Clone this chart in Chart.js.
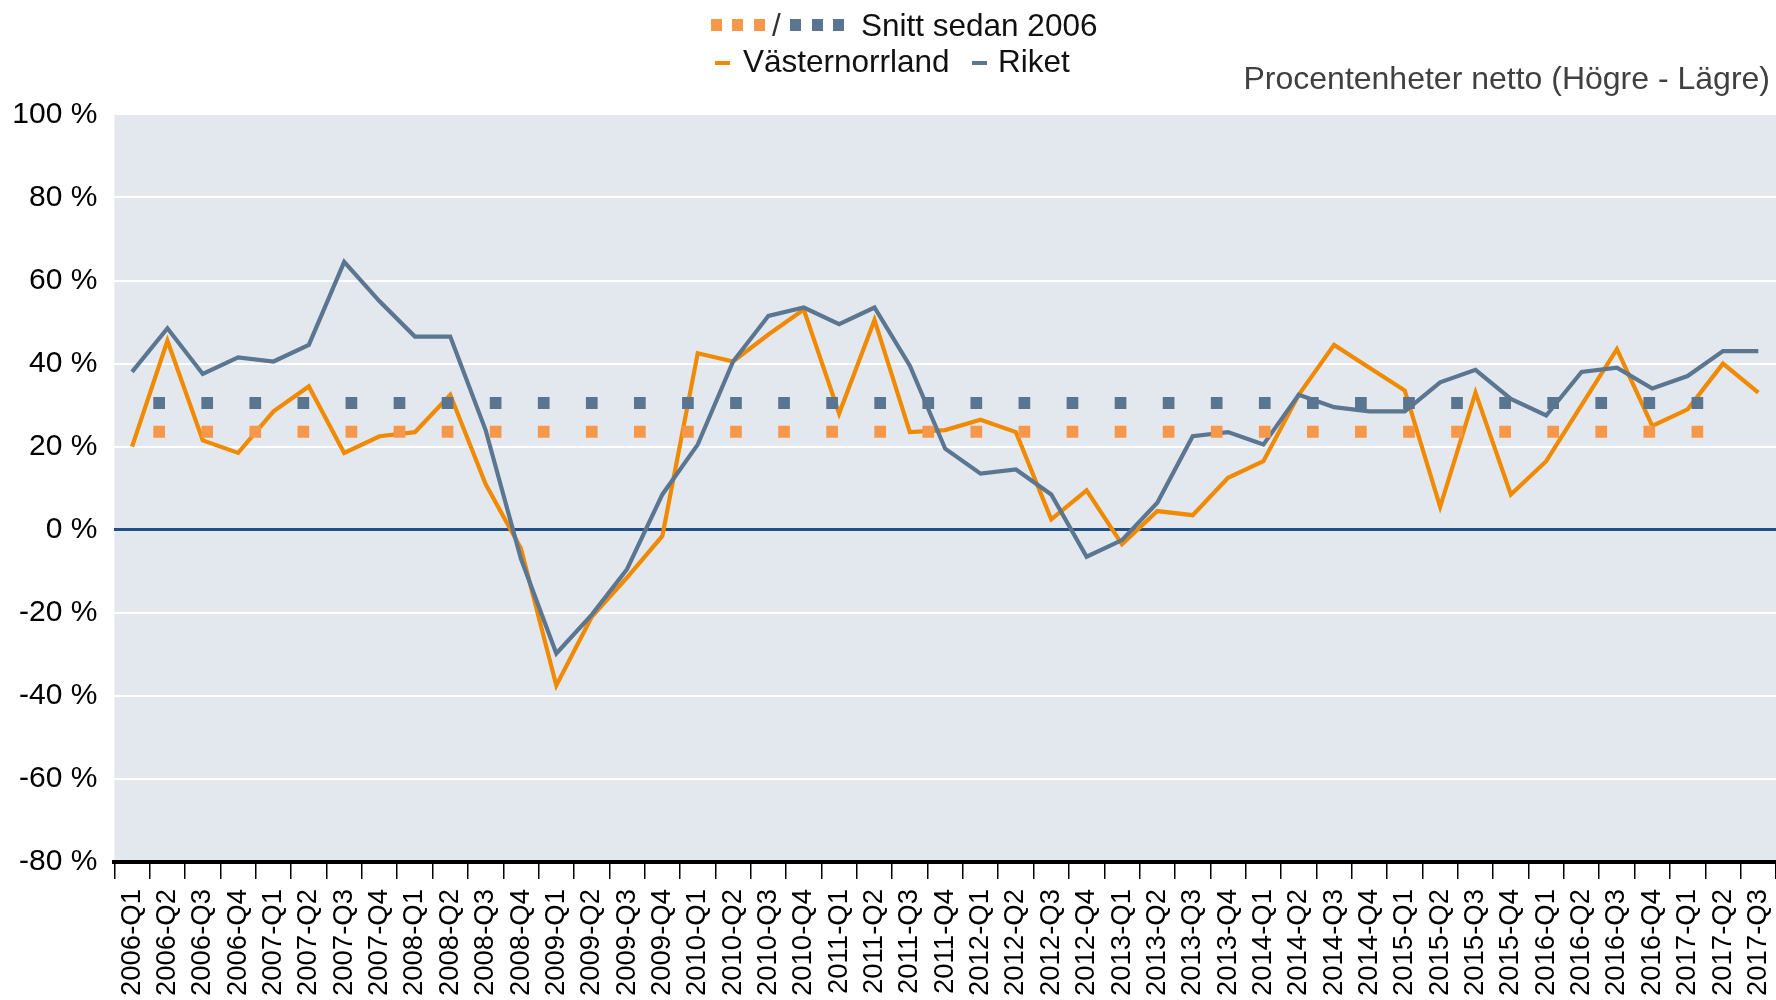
<!DOCTYPE html>
<html><head><meta charset="utf-8">
<script src="https://cdn.jsdelivr.net/npm/chart.js@4.4.1/dist/chart.umd.min.js"></script>
<style>
html,body{margin:0;padding:0;background:#fff;}
#wrap{position:relative;width:1776px;height:1000px;overflow:hidden;font-family:'Liberation Sans',Arial,sans-serif;}
canvas{position:absolute;left:0;top:0;}
.t{position:absolute;white-space:nowrap;font-size:31.5px;line-height:31.5px;color:#111;}
.sq{position:absolute;width:11px;height:12px;}
.ln{position:absolute;height:4px;width:15px;}
</style></head><body>
<div id="wrap">
<canvas id="c" width="1776" height="1000"></canvas>
<div id="legend"></div>
</div>
<script>
const labels = ['2006-Q1','2006-Q2','2006-Q3','2006-Q4','2007-Q1','2007-Q2','2007-Q3','2007-Q4',
'2008-Q1','2008-Q2','2008-Q3','2008-Q4','2009-Q1','2009-Q2','2009-Q3','2009-Q4',
'2010-Q1','2010-Q2','2010-Q3','2010-Q4','2011-Q1','2011-Q2','2011-Q3','2011-Q4',
'2012-Q1','2012-Q2','2012-Q3','2012-Q4','2013-Q1','2013-Q2','2013-Q3','2013-Q4',
'2014-Q1','2014-Q2','2014-Q3','2014-Q4','2015-Q1','2015-Q2','2015-Q3','2015-Q4',
'2016-Q1','2016-Q2','2016-Q3','2016-Q4','2017-Q1','2017-Q2','2017-Q3'];

const vasternorrland = [20,45.5,21.5,18.5,28.5,34.5,18.5,22.5,
23.5,32.5,11,-4.5,-37.5,-21,-11.5,-1.5,
42.5,40.5,47,53,28,50.5,23.5,24,
26.5,23.5,2.5,9.5,-3.5,4.5,3.5,12.5,
16.5,32.5,44.5,39,33.5,5.5,33,8.5,
16.5,30,43.5,25,29,40,33];

const riket = [38,48.5,37.5,41.5,40.5,44.5,64.5,55,
46.5,46.5,24,-7,-29.8,-20.5,-9.5,8.5,
20.5,40.5,51.5,53.5,49.5,53.5,39.5,19.5,
13.5,14.5,8.5,-6.5,-2.5,6.5,22.5,23.5,
20.5,32.5,29.5,28.5,28.5,35.5,38.5,31.5,
27.5,38,39,34,37,43,43];

const snittVasternorrland = 23.6;
const snittRiket = 30.5;
// extent of the average lines, in category-index units
const snittFrom = 0.6;
const snittTo = 45.47;

const yTicks = [-80,-60,-40,-20,0,20,40,60,80,100];

const seriesNames = ['Västernorrland','Riket'];
const snittLabel = 'Snitt sedan 2006';
const unitLabel = 'Procentenheter netto (Högre - Lägre)';

const C_OR = '#F08A00', C_BL = '#5B7690', C_OR_SQ = '#F7974A', C_BL_SQ = '#5A7590';
const FONT = "'Liberation Sans', Arial, sans-serif";

// legend (HTML text)
const lg = document.getElementById('legend');
function add(html){ lg.insertAdjacentHTML('beforeend', html); }
[710.5,732.2,753.9].forEach(x=>add(`<div class="sq" style="left:${x}px;top:19px;background:${C_OR_SQ}"></div>`));
add(`<div class="t" style="left:772px;top:9.5px;color:#333">/</div>`);
[790,811.7,833.4].forEach(x=>add(`<div class="sq" style="left:${x}px;top:19px;background:${C_BL_SQ}"></div>`));
add(`<div class="t" style="left:861px;top:9.5px">${snittLabel}</div>`);
add(`<div class="ln" style="left:715px;top:61px;background:${C_OR}"></div>`);
add(`<div class="t" style="left:743px;top:46px">${seriesNames[0]}</div>`);
add(`<div class="ln" style="left:972px;top:61px;background:${C_BL}"></div>`);
add(`<div class="t" style="left:998px;top:46px">${seriesNames[1]}</div>`);
add(`<div class="t" style="right:6px;top:61.5px;color:#404040;font-size:32px;line-height:32px">${unitLabel}</div>`);

const bgPlugin = {
  id: 'plotbg',
  beforeDraw(chart){
    const {ctx, chartArea:a} = chart;
    ctx.save(); ctx.fillStyle = '#E3E8EF';
    ctx.fillRect(a.left, a.top, a.right-a.left, a.bottom-a.top);
    ctx.restore();
  }
};

new Chart(document.getElementById('c'), {
  type: 'line',
  data: {
    labels: labels,
    datasets: [
      { label: 'Snitt ' + seriesNames[0], xAxisID: 'xl',
        data: [{x:snittFrom,y:snittVasternorrland},{x:snittTo,y:snittVasternorrland}],
        borderColor: C_OR_SQ, borderWidth: 12, borderDash: [11.7, 36.37], borderCapStyle: 'butt',
        pointRadius: 0, order: 0 },
      { label: 'Snitt ' + seriesNames[1], xAxisID: 'xl',
        data: [{x:snittFrom,y:snittRiket},{x:snittTo,y:snittRiket}],
        borderColor: C_BL_SQ, borderWidth: 12, borderDash: [11.7, 36.37], borderCapStyle: 'butt',
        pointRadius: 0, order: 0 },
      { label: seriesNames[1], data: riket, borderColor: C_BL, borderWidth: 4.2,
        borderJoinStyle: 'miter', pointRadius: 0, tension: 0, order: 1 },
      { label: seriesNames[0], data: vasternorrland, borderColor: C_OR, borderWidth: 4.2,
        borderJoinStyle: 'miter', pointRadius: 0, tension: 0, order: 2 }
    ]
  },
  options: {
    responsive: false,
    animation: false,
    devicePixelRatio: 1,
    layout: { padding: { top: 114.4, left: 0, right: 0, bottom: 0 } },
    plugins: { legend: { display: false }, tooltip: { enabled: false } },
    scales: {
      x: {
        type: 'category', offset: true,
        grid: { offset: true, drawOnChartArea: false, drawTicks: true, tickLength: 17, color: '#000', lineWidth: 1.5 },
        border: { display: true, color: '#000', width: 4 },
        ticks: { autoSkip: false, maxRotation: 90, minRotation: 90, color: '#000', padding: 10,
                 font: { family: FONT, size: 27.5 } },
        afterFit: s => { s.height = 138; s.paddingLeft = 0; s.paddingRight = 0; }
      },
      xl: { type: 'linear', display: false, min: -0.5, max: labels.length - 0.5 },
      y: {
        min: yTicks[0], max: yTicks[yTicks.length-1],
        afterBuildTicks: s => { s.ticks = yTicks.map(v => ({value: v})); },
        ticks: { color: '#000', padding: 17, font: { family: FONT, size: 30 },
                 callback: v => v + ' %' },
        grid: { drawTicks: false,
                color: c => c.tick && c.tick.value === 0 ? '#244E86' : '#FFFFFF',
                lineWidth: c => c.tick && c.tick.value === 0 ? 3 : 2 },
        border: { display: false },
        afterFit: s => { s.width = 114.4; s.paddingTop = 0; s.paddingBottom = 0; }
      }
    }
  },
  plugins: [bgPlugin]
});
</script>
</body></html>
